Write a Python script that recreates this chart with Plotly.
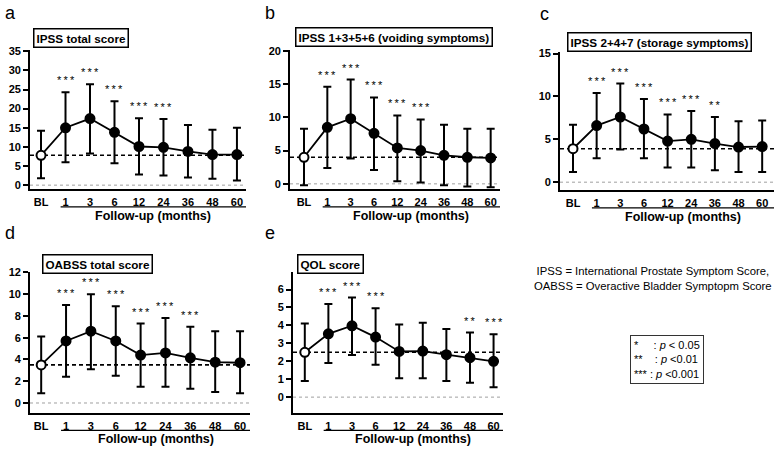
import plotly.graph_objects as go

W, H = 778, 450

categories = ["BL", "1", "3", "6", "12", "24", "36", "48", "60"]

# Panel a: IPSS total score
a_mean = [7.8, 15.0, 17.4, 13.8, 10.1, 9.9, 8.8, 8.0, 8.0]
a_upper = [14.2, 24.3, 26.4, 21.9, 17.5, 17.3, 15.7, 14.5, 15.0]
a_lower = [1.8, 6.0, 8.3, 5.7, 2.8, 2.5, 2.0, 1.7, 1.2]
a_sig = ["", "***", "***", "***", "***", "***", "", "", ""]

# Panel b: IPSS voiding
b_mean = [4.0, 8.5, 9.8, 7.6, 5.4, 5.0, 4.3, 4.0, 3.9]
b_upper = [8.3, 14.6, 15.7, 13.0, 10.3, 9.7, 8.9, 8.3, 8.3]
b_lower = [-0.2, 2.4, 3.8, 2.1, 0.4, 0.2, -0.2, -0.4, -0.5]
b_sig = ["", "***", "***", "***", "***", "***", "", "", ""]

# Panel c: IPSS storage
c_mean = [3.9, 6.6, 7.6, 6.2, 4.8, 5.0, 4.5, 4.1, 4.15]
c_upper = [6.7, 10.4, 11.5, 9.7, 7.9, 8.3, 7.6, 7.1, 7.2]
c_lower = [1.2, 2.8, 3.8, 2.8, 1.7, 1.7, 1.4, 1.2, 1.2]
c_sig = ["", "***", "***", "***", "***", "***", "**", "", ""]

# Panel d: OABSS total score
d_mean = [3.5, 5.7, 6.6, 5.7, 4.4, 4.6, 4.15, 3.75, 3.7]
d_upper = [6.1, 9.0, 10.0, 8.9, 7.3, 7.8, 7.0, 6.6, 6.6]
d_lower = [0.9, 2.4, 3.1, 2.5, 1.5, 1.5, 1.3, 1.0, 0.9]
d_sig = ["", "***", "***", "***", "***", "***", "***", "", ""]

# Panel e: QOL score
e_mean = [2.5, 3.53, 3.98, 3.35, 2.55, 2.57, 2.37, 2.2, 2.0]
e_upper = [4.1, 5.2, 5.55, 4.95, 4.05, 4.15, 3.8, 3.6, 3.5]
e_lower = [0.9, 1.9, 2.35, 1.8, 1.05, 1.05, 0.9, 0.8, 0.55]
e_sig = ["", "***", "***", "***", "", "", "", "**", "***"]

titles = ["IPSS total score", "IPSS 1+3+5+6 (voiding symptoms)",
          "IPSS 2+4+7 (storage symptoms)", "OABSS total score", "QOL score"]
letters = ["a", "b", "c", "d", "e"]
y_ticks = [[0, 5, 10, 15, 20, 25, 30, 35], [0, 5, 10, 15, 20], [0, 5, 10, 15],
           [0, 2, 4, 6, 8, 10, 12], [0, 1, 2, 3, 4, 5, 6]]
x_label = "Follow-up (months)"

FONT = "Liberation Sans, Arial, sans-serif"

panels = [
    dict(mean=a_mean, up=a_upper, lo=a_lower, sig=a_sig,
         box=(30, 246, 46, 187), yr=(-1.03, 35.25), xr=(-0.45, 8.37),
         title_xy=(33, 34), letter_xy=(10, 8)),
    dict(mean=b_mean, up=b_upper, lo=b_lower, sig=b_sig,
         box=(290, 500, 46, 187), yr=(-0.79, 20.1), xr=(-0.6, 8.4),
         title_xy=(295, 33), letter_xy=(270, 8)),
    dict(mean=c_mean, up=c_upper, lo=c_lower, sig=c_sig,
         box=(560, 774, 48, 188), yr=(-0.92, 15.15), xr=(-0.55, 8.5),
         title_xy=(567, 38), letter_xy=(544, 9)),
    dict(mean=d_mean, up=d_upper, lo=d_lower, sig=d_sig,
         box=(30, 250, 271, 414), yr=(-0.88, 12.06), xr=(-0.45, 8.4),
         title_xy=(42, 263), letter_xy=(10, 232)),
    dict(mean=e_mean, up=e_upper, lo=e_lower, sig=e_sig,
         box=(293, 503, 271, 414), yr=(-0.86, 6.99), xr=(-0.5, 8.4),
         title_xy=(297, 263), letter_xy=(270, 232)),
]


def px(x):
    return x / W


def py(y):
    return 1 - y / H


def spaced(s):
    return "&#8201;".join(s)


fig = go.Figure()
annotations = []
shapes = []
xidx = list(range(len(categories)))

for i, p in enumerate(panels):
    n = i + 1
    xa = "x" if n == 1 else f"x{n}"
    ya = "y" if n == 1 else f"y{n}"
    l, r, t, b = p["box"]
    err_plus = [u - m for u, m in zip(p["up"], p["mean"])]
    err_minus = [m - lo for m, lo in zip(p["mean"], p["lo"])]
    fig.add_trace(go.Scatter(
        x=xidx, y=p["mean"], mode="lines+markers", xaxis=xa, yaxis=ya,
        line=dict(color="black", width=1.8),
        marker=dict(size=9, color=["white"] + ["black"] * 8,
                    line=dict(color="black", width=2)),
        error_y=dict(type="data", symmetric=False, array=err_plus,
                     arrayminus=err_minus, color="black", thickness=2, width=4),
        showlegend=False, hoverinfo="skip",
    ))
    axsuffix = "" if n == 1 else str(n)
    fig.layout["xaxis" + axsuffix] = dict(
        domain=[px(l), px(r)], anchor=ya, range=list(p["xr"]),
        tickmode="array", tickvals=xidx, ticktext=categories,
        showline=True, linecolor="black", linewidth=1.8, ticks="",
        showgrid=False, zeroline=False, fixedrange=True,
        tickfont=dict(family=FONT, size=11, color="black", weight="bold"),
        ticklabelstandoff=2,
    )
    fig.layout["yaxis" + axsuffix] = dict(
        domain=[py(b), py(t)], anchor=xa, range=list(p["yr"]),
        tickmode="array", tickvals=y_ticks[i],
        showline=True, linecolor="black", linewidth=1.8, ticks="outside",
        ticklen=5, tickwidth=1.5, tickcolor="black",
        showgrid=False, zeroline=False, fixedrange=True,
        tickfont=dict(family=FONT, size=11, color="black", weight="bold"),
    )
    # baseline dashed reference line
    shapes.append(dict(type="line", xref="paper",
                       x0=px(l), x1=px(r), yref=ya,
                       y0=p["mean"][0], y1=p["mean"][0],
                       line=dict(color="black", width=1.6, dash="4px,3px"),
                       layer="below"))
    # zero dotted line
    shapes.append(dict(type="line", xref="paper", x0=px(l), x1=px(r), yref=ya,
                       y0=0, y1=0, line=dict(color="#888888", width=0.8, dash="dot"),
                       layer="below"))
    # follow-up underline
    ul_y = b + 18
    shapes.append(dict(type="line", xref=xa, x0=0.8, x1=p["xr"][1],
                       yref="paper", y0=py(ul_y), y1=py(ul_y),
                       line=dict(color="black", width=1.3)))
    annotations.append(dict(
        xref=xa, x=(0.8 + p["xr"][1]) / 2, yref="paper", y=py(ul_y + 9),
        text=x_label, showarrow=False, xanchor="center", yanchor="middle",
        font=dict(family=FONT, size=12.5, color="black", weight="bold")))
    # significance asterisks
    for k, s in enumerate(p["sig"]):
        if s:
            annotations.append(dict(
                xref=xa, yref=ya, x=k, y=p["up"][k], text=spaced(s),
                showarrow=False, xanchor="center", yanchor="bottom", yshift=4,
                font=dict(family=FONT, size=11, color="black")))
    # title box
    tx, ty = p["title_xy"]
    annotations.append(dict(
        xref="paper", yref="paper", x=px(tx), y=py(ty), text=titles[i],
        showarrow=False, xanchor="left", yanchor="middle",
        font=dict(family=FONT, size=11.7, color="black", weight="bold"),
        bordercolor="black", borderwidth=1.5, borderpad=2, bgcolor="white"))
    # panel letter
    lx, ly = p["letter_xy"]
    annotations.append(dict(
        xref="paper", yref="paper", x=px(lx), y=py(ly), text=letters[i],
        showarrow=False, xanchor="center", yanchor="middle",
        font=dict(family=FONT, size=18, color="black")))

# abbreviations note
annotations.append(dict(
    xref="paper", yref="paper", x=px(653), y=py(278),
    text="IPSS = International Prostate Symptom Score,<br>OABSS = Overactive Bladder Symptopm Score",
    showarrow=False, xanchor="center", yanchor="middle", align="center",
    font=dict(family=FONT, size=11.3, color="black")))

# p-value key box
annotations.append(dict(
    xref="paper", yref="paper", x=px(667), y=py(360),
    text="*&nbsp;&nbsp;&nbsp;&nbsp;&nbsp;: <i>p</i> < 0.05<br>**&nbsp;&nbsp;&nbsp;&nbsp;: <i>p</i> <0.01<br>*** : <i>p</i> <0.001",
    showarrow=False, xanchor="center", yanchor="middle", align="left",
    font=dict(family=FONT, size=11, color="black"),
    bordercolor="#333333", borderwidth=1, borderpad=3, bgcolor="white"))

fig.update_layout(
    width=W, height=H, margin=dict(l=0, r=0, t=0, b=0),
    paper_bgcolor="white", plot_bgcolor="white",
    annotations=annotations, shapes=shapes,
    font=dict(family=FONT, color="black"),
)

post = ("document.body.style.margin='0';document.body.style.padding='0';"
        "document.body.style.overflow='hidden';"
        "var gd=document.getElementById('{plot_id}');"
        "gd.style.position='absolute';gd.style.left='0px';gd.style.top='0px';")

fig.write_html("out.html", post_script=post, config={"displayModeBar": False})
